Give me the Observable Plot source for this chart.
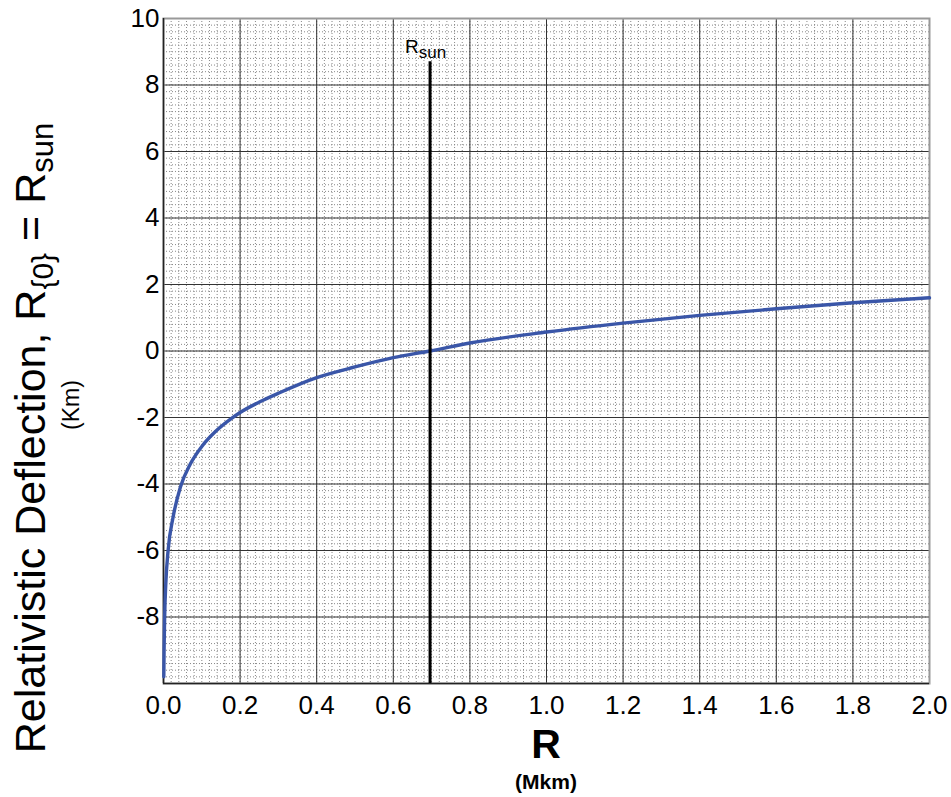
<!DOCTYPE html>
<html>
<head>
<meta charset="utf-8">
<script src="https://cdn.jsdelivr.net/npm/d3@7"></script>
<script src="https://cdn.jsdelivr.net/npm/@observablehq/plot@0.6"></script>
<style>
  html, body { margin: 0; padding: 0; background: #fff; }
  #chart svg { display: block; }
</style>
</head>
<body>
<div id="chart"></div>
<script>
// Distance from centre R (Mkm) and relativistic deflection relative to R0 = Rsun (km)
const radius     = [0.0008, 0.0015, 0.003, 0.006, 0.012, 0.025, 0.044, 0.07, 0.1, 0.135, 0.175, 0.2, 0.253, 0.3, 0.4, 0.5, 0.6, 0.696, 0.8, 1.0, 1.2, 1.4, 1.6, 1.8, 2.0];
const deflection = [-9.8, -9.0, -8.0, -7.0, -6.0, -5.0, -4.1, -3.4, -2.87, -2.43, -2.05, -1.85, -1.52, -1.27, -0.8, -0.48, -0.2, 0.0, 0.24, 0.57, 0.84, 1.07, 1.27, 1.45, 1.6];
const rSun = 0.696;
const rSunLineTop = 8.7;

const xTicks = [0, 0.2, 0.4, 0.6, 0.8, 1.0, 1.2, 1.4, 1.6, 1.8, 2.0];
const xTickLabels = ["0.0", "0.2", "0.4", "0.6", "0.8", "1.0", "1.2", "1.4", "1.6", "1.8", "2.0"];
const yTicks = [-8, -6, -4, -2, 0, 2, 4, 6, 8, 10];
const yTickLabels = ["-8", "-6", "-4", "-2", "0", "2", "4", "6", "8", "10"];
const yGrid = [-10, -8, -6, -4, -2, 0, 2, 4, 6, 8, 10];

const minorX = d3.range(0, 101).map(i => i * 0.02);
const minorY = d3.range(0, 101).map(i => -10 + i * 0.2);

const data = radius.map((r, i) => ({r, d: deflection[i]}));

const font = "Arial, 'Liberation Sans', sans-serif";

const chart = Plot.plot({
  width: 951,
  height: 797,
  marginLeft: 163,
  marginRight: 22,
  marginTop: 18,
  marginBottom: 114,
  style: {fontFamily: font, fontSize: "26px", color: "#000", background: "#fff"},
  x: {domain: [0, 2], label: null},
  y: {domain: [-10, 10], label: null},
  marks: [
    Plot.ruleX(minorX, {stroke: "#888", strokeWidth: 1, strokeDasharray: "1,2"}),
    Plot.ruleY(minorY, {stroke: "#888", strokeWidth: 1, strokeDasharray: "1,2"}),
    Plot.ruleX(xTicks, {stroke: "#333", strokeWidth: 1}),
    Plot.ruleY(yGrid, {stroke: "#333", strokeWidth: 1}),
    Plot.frame({stroke: "#999", strokeWidth: 2}),
    Plot.ruleX([0], {stroke: "#222", strokeWidth: 1.5}),
    Plot.ruleY([-10], {stroke: "#222", strokeWidth: 1.5}),
    Plot.axisX({ticks: xTicks, tickFormat: (d, i) => xTickLabels[i], tickSize: 0, tickPadding: 12, fontSize: 26, label: null}),
    Plot.axisY({ticks: yTicks, tickFormat: (d, i) => yTickLabels[i], tickSize: 0, tickPadding: 4, fontSize: 26, label: null}),
    Plot.line(data, {x: "r", y: "d", curve: "monotone-x", stroke: "#3a56a8", strokeWidth: 3.4}),
    Plot.ruleX([rSun], {y1: -10, y2: rSunLineTop, stroke: "#000", strokeWidth: 3})
  ]
});

document.getElementById("chart").appendChild(chart);

const svg = d3.select(chart);
const xs = chart.scale("x");
const ys = chart.scale("y");

// Rsun label
const rl = svg.append("text")
  .attr("x", xs.apply(rSun) - 4)
  .attr("y", ys.apply(rSunLineTop) - 8)
  .attr("text-anchor", "middle")
  .style("font-family", font)
  .style("font-size", "19px")
  .attr("fill", "#000");
rl.append("tspan").text("R");
rl.append("tspan").style("font-size", "17px").attr("dy", 5).text("sun");

// Y axis title
const yt = svg.append("text")
  .attr("transform", "translate(45,438) rotate(-90)")
  .attr("text-anchor", "middle")
  .style("font-family", font)
  .style("font-size", "43px")
  .attr("fill", "#000");
yt.append("tspan").text("Relativistic Deflection, R");
yt.append("tspan").style("font-size", "30px").attr("dy", 8).text("{0}");
yt.append("tspan").attr("dy", -8).text(" = R");
yt.append("tspan").style("font-size", "31px").attr("dy", 8).text("sun");

svg.append("text")
  .attr("transform", "translate(79,405) rotate(-90)")
  .attr("text-anchor", "middle")
  .style("font-family", font)
  .style("font-size", "23px")
  .attr("fill", "#000")
  .text("(Km)");

// X axis title
svg.append("text")
  .attr("x", 546).attr("y", 758)
  .attr("text-anchor", "middle")
  .style("font-family", font)
  .style("font-size", "41px")
  .style("font-weight", "bold")
  .attr("fill", "#000")
  .text("R");

svg.append("text")
  .attr("x", 546).attr("y", 789)
  .attr("text-anchor", "middle")
  .style("font-family", font)
  .style("font-size", "21px")
  .style("font-weight", "bold")
  .attr("fill", "#000")
  .text("(Mkm)");
</script>
</body>
</html>
